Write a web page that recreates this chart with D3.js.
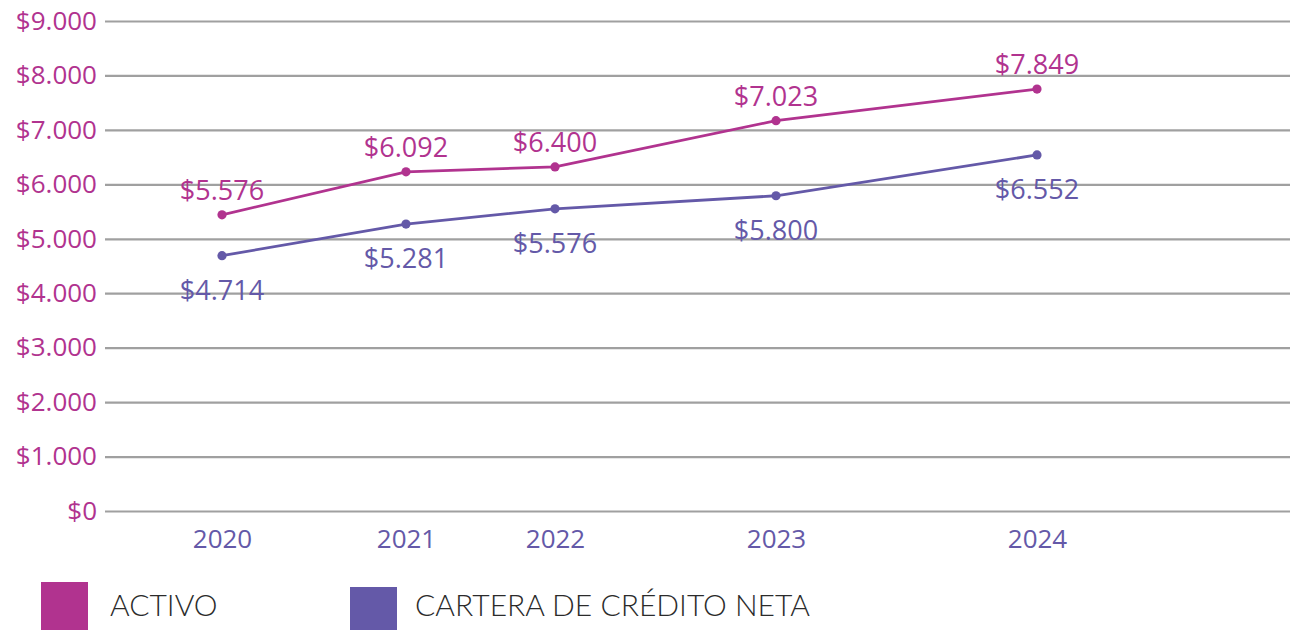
<!DOCTYPE html>
<html>
<head>
<meta charset="utf-8">
<script src="https://cdn.jsdelivr.net/npm/d3@7"></script>
<style>
    body { margin: 0; background: #fff; }
    svg { display: block; }
    .num { font-family: 'Open Sans', sans-serif; }
    .legend { font-family: Lato, sans-serif; font-weight: 300; }
</style>
</head>
<body>
<div id="chart"></div>
<script>
// data
const years = [2020, 2021, 2022, 2023, 2024];
const activoValues = [5440, 6230, 6320, 7170, 7750];
const activoLabels = ['$5.576', '$6.092', '$6.400', '$7.023', '$7.849'];
const carteraValues = [4690, 5270, 5550, 5790, 6540];
const carteraLabels = ['$4.714', '$5.281', '$5.576', '$5.800', '$6.552'];
const yTicks = [0, 1000, 2000, 3000, 4000, 5000, 6000, 7000, 8000, 9000];

const series = [
    { name: 'ACTIVO', values: activoValues, labels: activoLabels, color: '#b1338f', above: true },
    { name: 'CARTERA DE CRÉDITO NETA', values: carteraValues, labels: carteraLabels, color: '#6459a8', above: false },
];

const width = 1293;
const height = 630;
const margin = { top: 21, right: 3, bottom: 119, left: 105 };

const svg = d3.select('#chart').append('svg').attr('width', width).attr('height', height);

// years are not evenly spaced in the original, so a piecewise scale
const xScale = d3
    .scaleLinear()
    .domain(years)
    .range([222, 406, 555, 776, 1037]);

const yScale = d3
    .scaleLinear()
    .domain([0, 9000])
    .range([height - margin.bottom, margin.top]);

const locale = d3.formatLocale({ decimal: ',', thousands: '.', grouping: [3], currency: ['$', ''] });
const money = locale.format('$,');

// y axis + gridlines
const yAxis = svg
    .append('g')
    .attr('transform', `translate(${margin.left},0)`)
    .call(
        d3.axisLeft(yScale)
            .tickValues(yTicks)
            .tickFormat(money)
            .tickSize(-(width - margin.left - margin.right))
            .tickPadding(8),
    );
yAxis.select('.domain').remove();
yAxis.selectAll('.tick line').attr('stroke', '#a0a0a0').attr('stroke-width', 2.2);
yAxis
    .selectAll('.tick text')
    .attr('class', 'num')
    .attr('fill', '#b1338f')
    .style('font-size', '26px');

// x axis
const xAxis = svg
    .append('g')
    .attr('transform', `translate(0,${height - margin.bottom})`)
    .call(d3.axisBottom(xScale).tickValues(years).tickFormat(d3.format('d')).tickSize(0).tickPadding(19));
xAxis.select('.domain').remove();
xAxis
    .selectAll('.tick text')
    .attr('class', 'num')
    .attr('fill', '#6459a8')
    .style('font-size', '26px');

const line = d3
    .line()
    .x((d, i) => xScale(years[i]))
    .y((d) => yScale(d));

series.forEach((s) => {
    const g = svg.append('g');

    g.append('path')
        .attr('d', line(s.values))
        .attr('fill', 'none')
        .attr('stroke', s.color)
        .attr('stroke-width', 2.8);

    g.selectAll('circle')
        .data(s.values)
        .enter()
        .append('circle')
        .attr('cx', (d, i) => xScale(years[i]))
        .attr('cy', (d) => yScale(d))
        .attr('r', 4.6)
        .attr('fill', s.color);

    g.selectAll('text')
        .data(s.values)
        .enter()
        .append('text')
        .attr('class', 'num')
        .attr('x', (d, i) => xScale(years[i]))
        .attr('y', (d) => yScale(d) + (s.above ? -15 : 44))
        .attr('text-anchor', 'middle')
        .attr('fill', s.color)
        .style('font-size', '27px')
        .text((d, i) => s.labels[i]);
});

// legend
const legendX = [41, 350];
const legend = svg
    .selectAll('.legend-item')
    .data(series)
    .enter()
    .append('g')
    .attr('class', 'legend-item')
    .attr('transform', (d, i) => `translate(${legendX[i]},582)`);

legend
    .append('rect')
    .attr('width', 47)
    .attr('y', (d, i) => i * 5)
    .attr('height', 48)
    .attr('fill', (d) => d.color);

legend
    .append('text')
    .attr('class', 'legend')
    .attr('x', (d, i) => (i === 0 ? 69 : 65))
    .attr('y', 34)
    .attr('fill', '#2b2b2b')
    .style('font-size', '30px')
    .text((d) => d.name);
</script>
</body>
</html>
